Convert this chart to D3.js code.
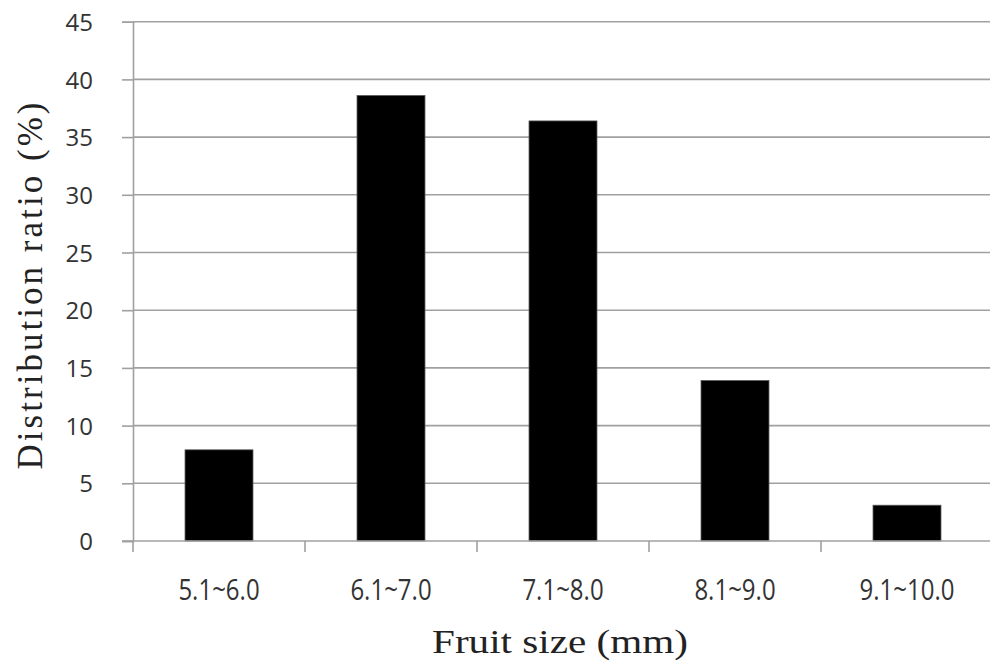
<!DOCTYPE html>
<html><head><meta charset="utf-8">
<script src="https://cdn.jsdelivr.net/npm/d3@7"></script>
<style>
html,body{margin:0;padding:0;background:#fff;}
svg{display:block;}
</style></head>
<body>
<script>
const categories = ["5.1~6.0","6.1~7.0","7.1~8.0","8.1~9.0","9.1~10.0"];
const values = [7.9, 38.6, 36.4, 13.9, 3.1];
const yTicks = [0,5,10,15,20,25,30,35,40,45];
const xTitle = "Fruit size (mm)";
const yTitle = "Distribution ratio (%)";

const W = 990, H = 662;
const svg = d3.select("body").append("svg").attr("width", W).attr("height", H);

const x0 = 133, x1 = 993, yTop = 21.7, yBot = 541;
const x = d3.scaleBand().domain(categories).range([x0, x1]).paddingInner(0.605).paddingOuter(0.3025);
const y = d3.scaleLinear().domain([0,45]).range([yBot, yTop]);
const grey = "#a0a0a0";

// gridlines
svg.append("g").selectAll("line").data(yTicks.filter(d=>d>0)).join("line")
  .attr("x1", x0).attr("x2", W).attr("y1", d=>y(d)).attr("y2", d=>y(d))
  .attr("stroke", grey).attr("stroke-width", 1.6);

// bars
svg.append("g").selectAll("rect").data(values).join("rect")
  .attr("x", (d,i)=>x(categories[i])).attr("width", x.bandwidth())
  .attr("y", d=>y(d)).attr("height", d=>yBot - y(d))
  .attr("fill", "#000").attr("stroke", "#555").attr("stroke-width", 0.8);

// y axis
const yAxis = d3.axisLeft(y).tickValues(yTicks).tickSize(11).tickPadding(29).tickFormat(d3.format("d"));
const gy = svg.append("g").attr("transform", `translate(${x0},0)`).call(yAxis);
gy.select(".domain").attr("stroke", grey).attr("stroke-width", 1.6);
gy.selectAll(".tick line").attr("stroke", grey).attr("stroke-width", 1.6);
gy.selectAll(".tick text").attr("font-family", "'Open Sans', 'Noto Sans', sans-serif")
  .attr("font-size", 24).attr("fill", "#333").attr("dy", "0.36em");

// x axis baseline
svg.append("line").attr("x1", x0 - 11).attr("x2", W).attr("y1", yBot).attr("y2", yBot)
  .attr("stroke", grey).attr("stroke-width", 1.6);
// category boundary ticks
const bounds = categories.map(c => x(c) - x.step()*x.paddingInner()/2);
svg.append("g").selectAll("line").data(bounds).join("line")
  .attr("x1", d=>d).attr("x2", d=>d).attr("y1", yBot).attr("y2", yBot + 11)
  .attr("stroke", grey).attr("stroke-width", 1.6);
// category labels
svg.append("g").selectAll("text").data(categories).join("text")
  .attr("transform", d => `translate(${x(d) + x.bandwidth()/2},600) scale(1,1.2)`)
  .attr("text-anchor", "middle")
  .attr("font-family", "'Open Sans', 'Noto Sans', sans-serif").attr("font-size", 24).attr("fill", "#333")
  .text(d=>d);

// titles
svg.append("text").attr("x", 560).attr("y", 653).attr("text-anchor", "middle")
  .attr("font-family", "'Liberation Serif', serif").attr("font-size", 34).attr("fill", "#222")
  .attr("textLength", 256).attr("lengthAdjust", "spacingAndGlyphs")
  .text(xTitle);
svg.append("text").attr("transform", "translate(42,286) rotate(-90)").attr("text-anchor", "middle")
  .attr("font-family", "'Liberation Serif', serif").attr("font-size", 35).attr("fill", "#222")
  .attr("textLength", 367).attr("lengthAdjust", "spacing")
  .text(yTitle);
</script>
</body></html>
